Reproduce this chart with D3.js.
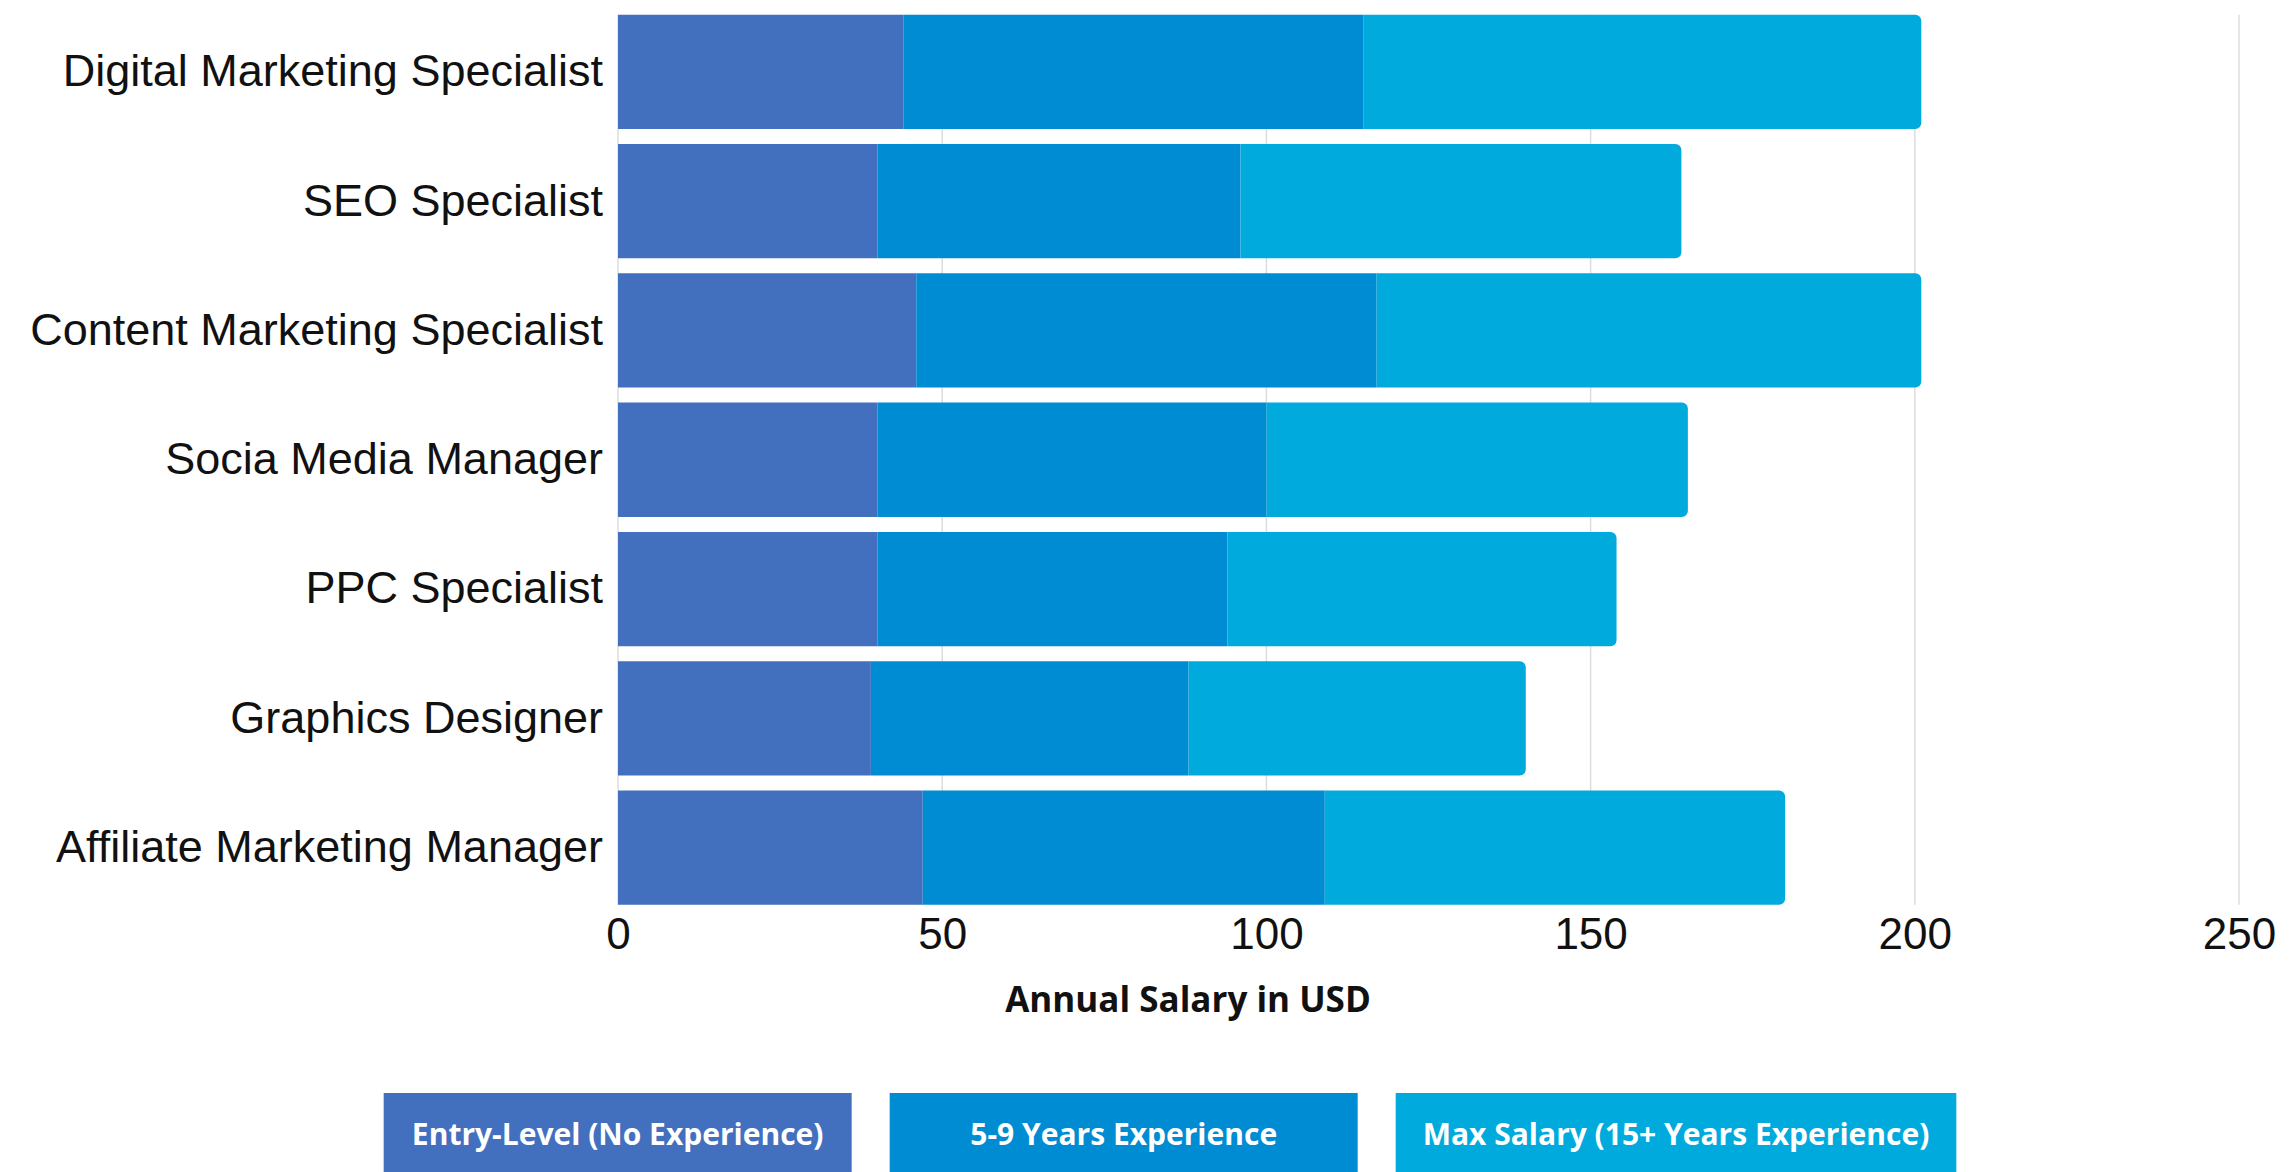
<!DOCTYPE html>
<html>
<head>
<meta charset="utf-8">
<script src="https://cdnjs.cloudflare.com/ajax/libs/d3/7.8.5/d3.min.js"></script>
<style>
body { margin: 0; background: #fff; }
</style>
</head>
<body>
<div id="chart"></div>
<script>
var jobs = ["Digital Marketing Specialist", "SEO Specialist", "Content Marketing Specialist",
    "Socia Media Manager", "PPC Specialist", "Graphics Designer", "Affiliate Marketing Manager"];
var entryLevel = [44, 40, 46, 40, 40, 39, 47];
var midLevel = [71, 56, 71, 60, 54, 49, 62];
var maxLevel = [86, 68, 84, 65, 60, 52, 71];
var seriesNames = ["Entry-Level (No Experience)", "5-9 Years Experience", "Max Salary (15+ Years Experience)"];
var xTicks = [0, 50, 100, 150, 200, 250];

var width = 2290,
    height = 1172;
var color = ["#4370be", "#008cd2", "#00aadd"];
var keys = ["entry", "mid", "max"];

var svg = d3.select("#chart").append("svg")
    .attr("width", width)
    .attr("height", height);

// rows for d3.stack
var rows = jobs.map(function(d, i) {
    return { job: d, entry: entryLevel[i], mid: midLevel[i], max: maxLevel[i] };
});
var stacked = d3.stack().keys(keys)(rows);

var x = d3.scaleLinear().domain([0, 250]).range([618, 2239]);
var y = d3.scaleBand().domain(jobs)
    .range([7.2, 912.3])
    .paddingInner(0.116)
    .paddingOuter(0.058);

var plotTop = y(jobs[0]);
var plotBottom = y(jobs[jobs.length - 1]) + y.bandwidth();

// grid lines
svg.append("g").attr("class", "grid")
    .selectAll("line")
    .data(xTicks)
    .enter().append("line")
    .attr("x1", function(d) { return x(d); })
    .attr("x2", function(d) { return x(d); })
    .attr("y1", plotTop)
    .attr("y2", plotBottom)
    .attr("stroke", "#dcdcdc")
    .attr("stroke-width", 1.5);

// right end of the bar gets rounded corners
function roundRight(x0, y0, w, h, r) {
    return "M" + x0 + "," + y0 +
        "H" + (x0 + w - r) +
        "A" + r + "," + r + " 0 0 1 " + (x0 + w) + "," + (y0 + r) +
        "V" + (y0 + h - r) +
        "A" + r + "," + r + " 0 0 1 " + (x0 + w - r) + "," + (y0 + h) +
        "H" + x0 + "Z";
}

var layers = svg.append("g").attr("class", "bars")
    .selectAll("g")
    .data(stacked)
    .enter().append("g")
    .attr("fill", function(d, i) { return color[i]; });

layers.selectAll("path")
    .data(function(d) { return d.map(function(p) { return { p: p, last: d.key == "max" }; }); })
    .enter().append("path")
    .attr("d", function(d) {
        var x0 = x(d.p[0]), w = x(d.p[1]) - x(d.p[0]);
        var y0 = y(d.p.data.job), h = y.bandwidth();
        if (d.last) return roundRight(x0, y0, w, h, 6);
        return "M" + x0 + "," + y0 + "h" + w + "v" + h + "h" + (-w) + "Z";
    });

// axes
var xAxis = svg.append("g")
    .attr("transform", "translate(0," + plotBottom + ")")
    .call(d3.axisBottom(x).tickValues(xTicks).tickSize(0).tickPadding(13));
xAxis.select(".domain").remove();
xAxis.selectAll("text")
    .style("font-family", "'Liberation Sans', Arial, sans-serif")
    .style("font-size", "44px")
    .style("fill", "#111");

var yAxis = svg.append("g")
    .attr("transform", "translate(" + x(0) + ",0)")
    .call(d3.axisLeft(y).tickSize(0).tickPadding(15));
yAxis.select(".domain").remove();
yAxis.selectAll("text")
    .style("font-family", "'Liberation Sans', Arial, sans-serif")
    .style("font-size", "45px")
    .style("fill", "#111");

svg.append("text")
    .attr("x", 1188)
    .attr("y", 1012)
    .attr("text-anchor", "middle")
    .style("font-family", "'Open Sans', sans-serif")
    .style("font-weight", "bold")
    .style("font-size", "35px")
    .style("fill", "#111")
    .text("Annual Salary in USD");

// legend boxes
var legend = svg.append("g").attr("class", "legend");
var items = legend.selectAll("g")
    .data(seriesNames)
    .enter().append("g");

items.append("rect")
    .attr("fill", function(d, i) { return color[i]; });

items.append("text")
    .attr("text-anchor", "middle")
    .attr("y", 1145)
    .style("font-family", "'Open Sans', sans-serif")
    .style("font-weight", "bold")
    .style("font-size", "30px")
    .style("fill", "#fff")
    .text(function(d) { return d; });

var boxW = [];
items.select("text").each(function() {
    boxW.push(Math.max(468, this.getComputedTextLength() + 54));
});
var gap = 38;
var total = d3.sum(boxW) + gap * (boxW.length - 1);
var startX = 1170 - total / 2;
var offsets = [];
boxW.reduce(function(acc, w) { offsets.push(acc); return acc + w + gap; }, startX);

items.select("rect")
    .attr("x", function(d, i) { return offsets[i]; })
    .attr("y", 1093)
    .attr("width", function(d, i) { return boxW[i]; })
    .attr("height", 90);
items.select("text")
    .attr("x", function(d, i) { return offsets[i] + boxW[i] / 2; });
</script>
</body>
</html>
